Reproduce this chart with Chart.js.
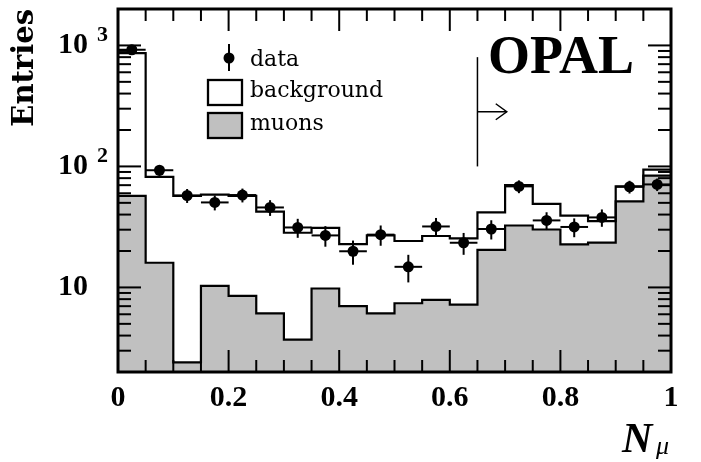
<!DOCTYPE html>
<html>
<head>
<meta charset="utf-8">
<script src="https://cdn.jsdelivr.net/npm/chart.js@4.4.1/dist/chart.umd.min.js"></script>
<style>
  html, body { margin: 0; padding: 0; background: #fff; }
</style>
</head>
<body>
<canvas id="muonChart" width="701" height="462"></canvas>
<script>
// bins of N_mu (lower edges), width 0.05
const binLow = [0, 0.05, 0.1, 0.15, 0.2, 0.25, 0.3, 0.35, 0.4, 0.45, 0.5, 0.55, 0.6, 0.65, 0.7, 0.75, 0.8, 0.85, 0.9, 0.95];
const binWidth = 0.05;

// measured data and its errors
const dataCounts = [921, 93, 57.5, 50.4, 58, 45.8, 31.3, 26.9, 19.9, 27.3, 14.8, 31.9, 23.4, 30.4, 68.4, 35.8, 31.6, 37.9, 67.9, 71];
const dataErrors = [30, 9.6, 7.6, 7.1, 7.6, 6.8, 5.6, 5.2, 4.5, 5.2, 3.8, 5.6, 4.8, 5.5, 8.3, 6.0, 5.6, 6.2, 8.2, 8.4];

// open histogram (background stacked on muons) and the grey muon histogram
const backgroundStack = [865, 82, 57, 58.5, 57, 42.3, 28.3, 31, 22.8, 26.9, 24.2, 26.6, 25.4, 41.7, 70, 49, 39.2, 35.3, 68.5, 94];
const muons = [57, 16, 2.4, 10.3, 8.5, 6.1, 3.7, 9.8, 7.0, 6.1, 7.4, 7.9, 7.2, 20.4, 32.5, 30.1, 22.7, 23.5, 51.4, 84];

// axis labels
const xTickValues = [0, 0.2, 0.4, 0.6, 0.8, 1];
const yLabelValues = [10, 100, 1000];
const yExponents = {100: '2', 1000: '3'};

// cut marker (in axis units)
const cut = {x: 0.65, yTop: 800, yBottom: 100, yArrow: 283, xTip: 0.703};

const serif = '"Liberation Serif", "Times New Roman", serif';
const wideSerif = '"DejaVu Serif", serif';

function stepPoints(vals) {
  const pts = binLow.map((x, i) => ({x: x, y: vals[i]}));
  const last = binLow.length - 1;
  pts.push({x: binLow[last] + binWidth, y: vals[last]});
  return pts;
}

function line(ctx, x1, y1, x2, y2) {
  ctx.beginPath();
  ctx.moveTo(x1, y1);
  ctx.lineTo(x2, y2);
  ctx.stroke();
}

const decorations = {
  id: 'decorations',
  afterDatasetsDraw(chart) {
    const {ctx, chartArea: a, scales: {x, y}} = chart;
    ctx.save();
    ctx.strokeStyle = '#000';
    ctx.fillStyle = '#000';

    // error bars on data
    ctx.lineWidth = 2;
    dataCounts.forEach((n, i) => {
      const cx = x.getPixelForValue(binLow[i] + binWidth / 2);
      const cy = y.getPixelForValue(n);
      line(ctx, x.getPixelForValue(binLow[i]), cy, x.getPixelForValue(binLow[i] + binWidth), cy);
      line(ctx, cx, y.getPixelForValue(n + dataErrors[i]), cx, y.getPixelForValue(n - dataErrors[i]));
    });

    // inward ticks, x
    ctx.lineWidth = 2;
    for (let k = 0; k <= 20; k++) {
      const px = x.getPixelForValue(k * 0.05);
      const len = k % 4 === 0 ? 22 : 12;
      line(ctx, px, a.bottom, px, a.bottom - len);
      line(ctx, px, a.top, px, a.top + len);
    }
    // inward ticks, y (log)
    [1, 10, 100, 1000].forEach(d => {
      for (let m = 1; m <= 9; m++) {
        const v = m * d;
        if (v < y.min || v > y.max) continue;
        const py = y.getPixelForValue(v);
        const len = m === 1 ? 23 : 13;
        line(ctx, a.left, py, a.left + len, py);
        line(ctx, a.right, py, a.right - len, py);
      }
    });

    // frame
    ctx.lineWidth = 3;
    ctx.strokeRect(a.left, a.top, a.right - a.left, a.bottom - a.top);

    // exponents on y labels
    ctx.font = 'bold 22px ' + serif;
    ctx.textAlign = 'left';
    ctx.textBaseline = 'alphabetic';
    Object.keys(yExponents).forEach(v => {
      ctx.fillText(yExponents[v], a.left - 21, y.getPixelForValue(+v) - 4);
    });

    // legend
    const lx = a.left + 90;
    ctx.font = '22px ' + wideSerif;
    ctx.fillText('data', a.left + 132, 66);
    ctx.fillText('background', a.left + 132, 97);
    ctx.fillText('muons', a.left + 132, 130);
    ctx.lineWidth = 2;
    line(ctx, a.left + 111, 44, a.left + 111, 71);
    ctx.beginPath();
    ctx.arc(a.left + 111, 58, 5.5, 0, Math.PI * 2);
    ctx.fill();
    ctx.lineWidth = 2.3;
    ctx.strokeRect(lx, 80, 34, 25);
    ctx.fillStyle = '#c0c0c0';
    ctx.fillRect(lx, 113, 34, 25);
    ctx.strokeRect(lx, 113, 34, 25);
    ctx.fillStyle = '#000';

    // OPAL
    ctx.font = 'bold 54px ' + serif;
    ctx.fillText('OPAL', 488, 73);

    // cut arrow
    const cx = x.getPixelForValue(cut.x);
    const ay = y.getPixelForValue(cut.yArrow);
    const tip = x.getPixelForValue(cut.xTip);
    ctx.lineWidth = 1.5;
    line(ctx, cx, y.getPixelForValue(cut.yTop), cx, y.getPixelForValue(cut.yBottom));
    line(ctx, cx, ay, tip, ay);
    ctx.beginPath();
    ctx.moveTo(tip - 11, ay - 8);
    ctx.lineTo(tip, ay);
    ctx.lineTo(tip - 11, ay + 8);
    ctx.stroke();

    // x title N_mu
    ctx.font = 'italic bold 42px ' + serif;
    ctx.fillText('N', 622, 452);
    ctx.font = 'italic 26px ' + serif;
    ctx.fillText('\u03bc', 656, 454);

    ctx.restore();
  }
};

const ctx = document.getElementById('muonChart').getContext('2d');
const muonChart = new Chart(ctx, {
  type: 'line',
  data: {
    datasets: [
      {
        label: 'data',
        data: binLow.map((x, i) => ({x: x + binWidth / 2, y: dataCounts[i]})),
        showLine: false,
        pointRadius: 5.5,
        pointBorderWidth: 0,
        pointBackgroundColor: '#000',
        order: 0
      },
      {
        label: 'background',
        data: stepPoints(backgroundStack),
        stepped: true,
        fill: false,
        borderColor: '#000',
        borderWidth: 2.2,
        pointRadius: 0,
        order: 1
      },
      {
        label: 'muons',
        data: stepPoints(muons),
        stepped: true,
        fill: 'start',
        backgroundColor: '#c0c0c0',
        borderColor: '#000',
        borderWidth: 2.2,
        pointRadius: 0,
        order: 2
      }
    ]
  },
  options: {
    responsive: false,
    animation: false,
    events: [],
    layout: {padding: {left: 0, right: 30, top: 9, bottom: 0}},
    scales: {
      x: {
        type: 'linear',
        min: 0,
        max: 1,
        afterBuildTicks: scale => { scale.ticks = xTickValues.map(v => ({value: v})); },
        afterFit: scale => {
          scale.height = 90;
          scale.paddingLeft = 0;
          scale.paddingRight = 0;
        },
        grid: {display: false, drawTicks: false},
        border: {display: false},
        ticks: {
          color: '#000',
          padding: 8,
          maxRotation: 0,
          autoSkip: false,
          callback: v => String(v),
          font: {family: serif, size: 30, weight: 'bold'}
        }
      },
      y: {
        type: 'logarithmic',
        min: 2,
        max: 2000,
        afterBuildTicks: scale => { scale.ticks = yLabelValues.map(v => ({value: v})); },
        afterFit: scale => {
          scale.width = 118;
          scale.paddingTop = 0;
          scale.paddingBottom = 0;
        },
        grid: {display: false, drawTicks: false},
        border: {display: false},
        ticks: {
          color: '#000',
          padding: 30,
          autoSkip: false,
          callback: () => '10',
          font: {family: serif, size: 30, weight: 'bold'}
        },
        title: {
          display: true,
          text: 'Entries',
          align: 'end',
          color: '#000',
          padding: {top: 8, bottom: 0},
          font: {family: wideSerif, size: 29, weight: 'bold'}
        }
      }
    },
    plugins: {
      legend: {display: false},
      tooltip: {enabled: false}
    }
  },
  plugins: [decorations]
});
</script>
</body>
</html>
